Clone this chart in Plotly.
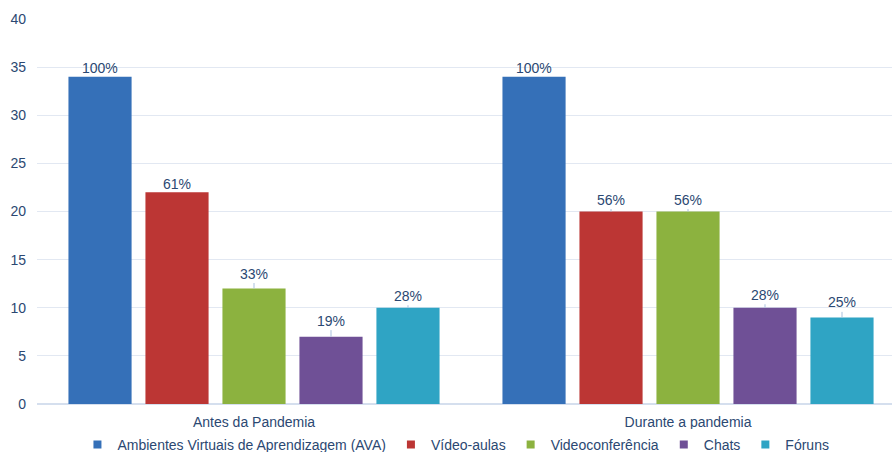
import plotly.graph_objects as go

categories = ["Antes da Pandemia", "Durante a pandemia"]
series_names = ["Ambientes Virtuais de Aprendizagem (AVA)", "Vídeo-aulas",
                "Videoconferência", "Chats", "Fóruns"]
ava = [34, 34]
video_aulas = [22, 20]
videoconf = [12, 20]
chats = [7, 10]
foruns = [10, 9]
pct_ava = ["100%", "100%"]
pct_video = ["61%", "56%"]
pct_conf = ["33%", "56%"]
pct_chats = ["19%", "28%"]
pct_foruns = ["28%", "25%"]

values = [ava, video_aulas, videoconf, chats, foruns]
pcts = [pct_ava, pct_video, pct_conf, pct_chats, pct_foruns]
colors = ["#3570b8", "#bc3634", "#8cb23f", "#6f5096", "#2fa4c4"]
label_offsets = [[9, 9], [8, 12], [15, 12], [16, 13], [12, 15]]

TEXT = "#2b4872"
FONT = "Liberation Sans, Arial"
fig = go.Figure()
for i, (name, vals) in enumerate(zip(series_names, values)):
    fig.add_trace(go.Bar(
        x=categories, y=vals, name=name,
        marker=dict(color=colors[i], line=dict(width=0)),
        offsetgroup=str(i), showlegend=False,
    ))
for i, name in enumerate(series_names):
    fig.add_trace(go.Scatter(
        x=[None], y=[None], mode="markers", name=name,
        marker=dict(symbol="square", size=8, color=colors[i]),
        showlegend=True,
    ))

fig.update_layout(barmode="group", bargap=0.113, bargroupgap=0.18)

n = len(series_names)
group_w = 1 - 0.113
slot = group_w / n
for i in range(n):
    for j, cat in enumerate(categories):
        xpos = j - group_w / 2 + slot * (i + 0.5)
        fig.add_annotation(
            x=xpos, y=values[i][j], xref="x", yref="y",
            text=pcts[i][j], showarrow=True, arrowhead=0, arrowwidth=1,
            arrowcolor="#a9c1de", ax=0, ay=-label_offsets[i][j], standoff=0,
            font=dict(family=FONT, size=14, color=TEXT),
        )

fig.update_layout(
    width=892, height=452,
    margin=dict(l=37, r=0, t=19, b=48, autoexpand=False),
    paper_bgcolor="white", plot_bgcolor="white",
    font=dict(family=FONT, size=14, color=TEXT),
    showlegend=True,
    legend=dict(orientation="h", x=0.49, xanchor="center",
                y=-0.1065, yanchor="middle",
                font=dict(size=14, color=TEXT), itemwidth=30,
                traceorder="normal"),
    xaxis=dict(type="category", range=[-0.5, 1.47], showgrid=False,
               showline=False, ticks="", tickfont=dict(size=14, color=TEXT),
               ticklabelstandoff=8, tickangle=0, fixedrange=True),
    yaxis=dict(range=[0, 40], dtick=5, showgrid=True, gridcolor="#e2e8f2",
               gridwidth=1, zeroline=True, zerolinecolor="#d5dfee",
               zerolinewidth=1.5, showline=False, ticks="",
               ticklabelstandoff=10, tickfont=dict(size=14, color=TEXT)),
)

fig.write_html("out.html")
